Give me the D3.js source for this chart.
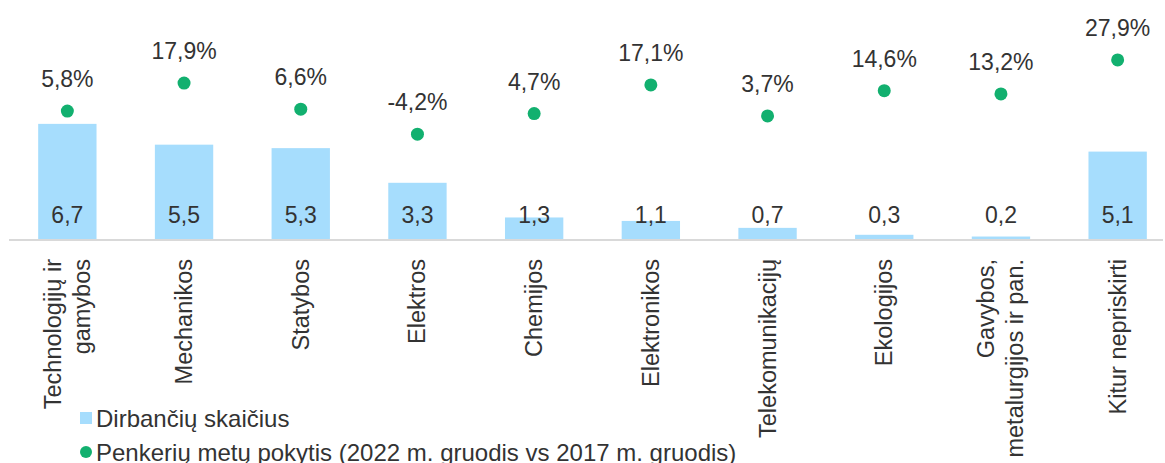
<!DOCTYPE html>
<html>
<head>
<meta charset="utf-8">
<script src="https://cdn.jsdelivr.net/npm/d3@7"></script>
<style>
  html, body { margin: 0; padding: 0; background: #fff; }
  svg { display: block; font-family: 'Liberation Sans', Arial, sans-serif; }
</style>
</head>
<body>
<div id="chart"></div>
<script>
const categories = [
  ['Technologijų ir', 'gamybos'],
  ['Mechanikos'],
  ['Statybos'],
  ['Elektros'],
  ['Chemijos'],
  ['Elektronikos'],
  ['Telekomunikacijų'],
  ['Ekologijos'],
  ['Gavybos,', 'metalurgijos ir pan.'],
  ['Kitur nepriskirti']
]
const workers = [6.7, 5.5, 5.3, 3.3, 1.3, 1.1, 0.7, 0.3, 0.2, 5.1]
const change = [5.8, 17.9, 6.6, -4.2, 4.7, 17.1, 3.7, 14.6, 13.2, 27.9]
const legendLabels = [
  'Dirbančių skaičius',
  'Penkerių metų pokytis (2022 m. gruodis vs 2017 m. gruodis)'
]

const width = 1165
const height = 463
const plotTop = 32
const plotBottom = 240
const barColor = '#a6ddfd'
const dotColor = '#12b06f'
const textColor = '#333333'
// lithuanian style: comma decimals, plain hyphen for minus
const fmt = v => d3.format('.1f')(v).replace('.', ',').replace('\u2212', '-')

const svg = d3.select('#chart')
  .append('svg')
  .attr('width', width)
  .attr('height', height)

const x = d3.scaleBand()
  .domain(d3.range(categories.length))
  .range([9, 1176])
  .paddingInner(0.5)
  .paddingOuter(0.25)

const yBar = d3.scaleLinear().domain([0, 12]).range([plotBottom, plotTop])
const yDot = d3.scaleLinear().domain([-50, 40]).range([plotBottom, plotTop])

// bars
svg.append('g')
  .selectAll('rect')
  .data(workers)
  .enter()
  .append('rect')
  .attr('x', (d, i) => x(i))
  .attr('y', d => yBar(d))
  .attr('width', x.bandwidth())
  .attr('height', d => yBar(0) - yBar(d))
  .attr('fill', barColor)

// category axis line
svg.append('line')
  .attr('x1', 9)
  .attr('x2', 1163)
  .attr('y1', yBar(0))
  .attr('y2', yBar(0))
  .attr('stroke', '#d9d9d9')
  .attr('stroke-width', 2)

// bar values, all on one line near the base
svg.append('g')
  .selectAll('text')
  .data(workers)
  .enter()
  .append('text')
  .attr('x', (d, i) => x(i) + x.bandwidth() / 2)
  .attr('y', yBar(0) - 17)
  .attr('text-anchor', 'middle')
  .attr('font-size', 23)
  .attr('fill', textColor)
  .text(d => fmt(d))

// change dots and labels
const dots = svg.append('g')
dots.selectAll('circle')
  .data(change)
  .enter()
  .append('circle')
  .attr('cx', (d, i) => x(i) + x.bandwidth() / 2)
  .attr('cy', d => yDot(d))
  .attr('r', 6.5)
  .attr('fill', dotColor)

dots.selectAll('text')
  .data(change)
  .enter()
  .append('text')
  .attr('x', (d, i) => x(i) + x.bandwidth() / 2)
  .attr('y', d => yDot(d) - 24)
  .attr('text-anchor', 'middle')
  .attr('font-size', 23)
  .attr('fill', textColor)
  .text(d => fmt(d) + '%')

// rotated category labels
const lineGap = 29
const catLabels = svg.append('g')
  .selectAll('text')
  .data(categories)
  .enter()
  .append('text')
  .attr('transform', (d, i) => {
    const cx = x(i) + x.bandwidth() / 2
    return `translate(${cx}, ${yBar(0) + 19}) rotate(-90)`
  })
  .attr('text-anchor', 'end')
  .attr('font-size', 23.5)
  .attr('fill', textColor)

catLabels.selectAll('tspan')
  .data(d => d.map((t, j) => ({ t, j, n: d.length })))
  .enter()
  .append('tspan')
  .attr('x', 0)
  .attr('y', d => (d.j - (d.n - 1) / 2) * lineGap + 8)
  .text(d => d.t)

// legend
const legend = svg.append('g')
legend.append('rect')
  .attr('x', 80)
  .attr('y', 412)
  .attr('width', 12)
  .attr('height', 12)
  .attr('fill', barColor)
legend.append('circle')
  .attr('cx', 86)
  .attr('cy', 452)
  .attr('r', 6)
  .attr('fill', dotColor)
legend.selectAll('text')
  .data(legendLabels)
  .enter()
  .append('text')
  .attr('x', 96)
  .attr('y', (d, i) => 427 + i * 34)
  .attr('font-size', 24)
  .attr('fill', textColor)
  .text(d => d)
</script>
</body>
</html>
